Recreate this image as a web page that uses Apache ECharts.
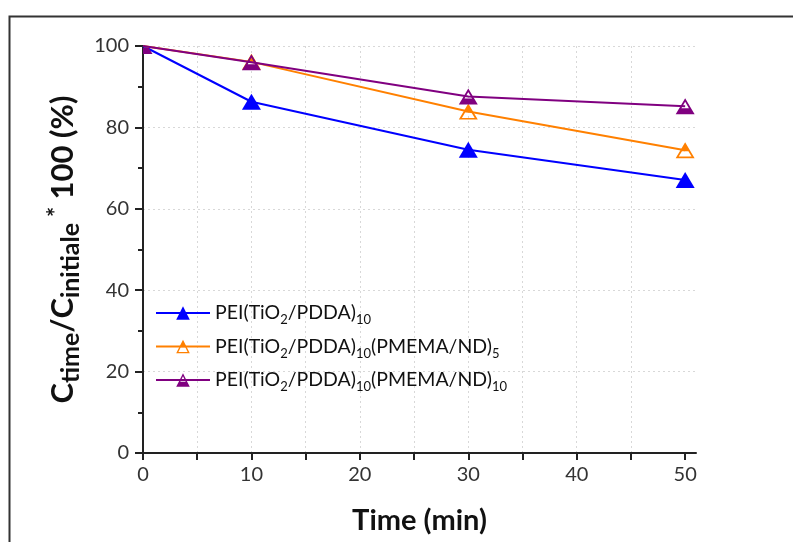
<!DOCTYPE html>
<html>
<head>
<meta charset="utf-8">
<script src="https://cdn.jsdelivr.net/npm/echarts@6/dist/echarts.min.js"></script>
<style>html,body{margin:0;padding:0;background:#fff}#c{width:793px;height:542px}</style>
</head>
<body>
<div id="c"></div>
<script>
const timeMin = [0, 10, 30, 50];
const seriesNames = ['PEI(TiO2/PDDA)10', 'PEI(TiO2/PDDA)10(PMEMA/ND)5', 'PEI(TiO2/PDDA)10(PMEMA/ND)10'];
const legendRich = [
  'PEI(TiO{s|2}/PDDA){s|10}',
  'PEI(TiO{s|2}/PDDA){s|10}(PMEMA/ND){s|5}',
  'PEI(TiO{s|2}/PDDA){s|10}(PMEMA/ND){s|10}'
];
const valsTiO2 = [100, 86.3, 74.5, 67.1];
const valsND5 = [100, 96.1, 83.9, 74.4];
const valsND10 = [100, 96.0, 87.6, 85.2];
const colors = ['#0000ff', '#ff8000', '#800080'];
const xTickLabels = [0, 10, 20, 30, 40, 50];
const xTicks = [0, 5, 10, 15, 20, 25, 30, 35, 40, 45, 50];

// half-filled triangles built from non-overlapping polygons
const topHalf = 'path://M50 0 L78 56 L22 56 Z M22 56 L33.2 56 L16.2 90 L83.8 90 L66.8 56 L78 56 L100 100 L0 100 Z';
const bottomHalf = 'path://M19 62 L81 62 L100 100 L0 100 Z M50 0 L81 62 L69.8 62 L50 22.4 L30.2 62 L19 62 Z';
const cornerPiece = 'path://M50 62 L81 62 L100 100 L50 100 Z';
const symbols = ['triangle', topHalf, bottomHalf];
const allVals = [valsTiO2, valsND5, valsND10];
const symW = 19, symH = 16;

const font = 'Lato, "Open Sans", sans-serif';
const chart = echarts.init(document.getElementById('c'));
chart.setOption({
  animation: false,
  textStyle: { fontFamily: font },
  graphic: [{
    type: 'rect', left: 7, top: 14, z: 100, silent: true,
    shape: { width: 800, height: 540 },
    style: { fill: 'none', stroke: '#333', lineWidth: 2 }
  }],
  grid: { left: 143, right: 97, top: 46, bottom: 89, containLabel: false },
  legend: {
    orient: 'vertical', left: 150, top: 298, itemGap: 10,
    itemWidth: 54, itemHeight: 17,
    data: seriesNames,
    formatter: function (name) { return legendRich[seriesNames.indexOf(name)]; },
    textStyle: {
      fontFamily: font, fontSize: 19.5, color: '#111',
      rich: { s: { fontFamily: font, fontSize: 13, color: '#111', padding: [14, 0, 0, 0] } }
    }
  },
  xAxis: {
    type: 'value', min: 0, max: 51, interval: 10,
    name: 'Time (min)', nameLocation: 'middle', nameGap: 53,
    nameTextStyle: { fontFamily: font, fontSize: 29, fontWeight: 'bold', color: '#111' },
    axisLine: { lineStyle: { color: '#222', width: 2 } },
    axisTick: { show: true, length: 7, customValues: xTicks, lineStyle: { color: '#222', width: 2 } },
    axisLabel: { customValues: xTickLabels, fontSize: 20, color: '#333', margin: 12, fontFamily: font },
    splitLine: { show: true, showMinLine: false, showMaxLine: false, lineStyle: { color: '#d8d8d8', type: [2, 3], width: 1 } }
  },
  yAxis: {
    type: 'value', min: 0, max: 100, interval: 20,
    name: '{C|C}{s|time}{C|/C}{s|initiale}{sup| *}{C| 100 (%)}',
    nameLocation: 'middle', nameGap: 58,
    nameTextStyle: {
      fontFamily: font, fontSize: 31, fontWeight: 'bold', color: '#111',
      rich: {
        C: { fontFamily: font, fontSize: 31, fontWeight: 'bold', color: '#111' },
        s: { fontFamily: font, fontSize: 25, fontWeight: 'bold', color: '#111', padding: [15, 0, 0, 0] },
        sup: { fontFamily: font, fontSize: 24, fontWeight: 'bold', color: '#111', padding: [0, 0, 12, 0] }
      }
    },
    axisLine: { show: true, lineStyle: { color: '#222', width: 2 } },
    axisTick: { show: true, length: 8, lineStyle: { color: '#222', width: 2 } },
    minorTick: { show: true, splitNumber: 2, length: 5, lineStyle: { color: '#222', width: 2 } },
    axisLabel: { fontSize: 20, color: '#333', margin: 14, fontFamily: font },
    splitLine: { show: true, showMinLine: false, lineStyle: { color: '#d8d8d8', type: [2, 3], width: 1 } }
  },
  series: seriesNames.map(function (nm, i) {
    return {
      name: nm, type: 'line', z: 3 + i,
      data: timeMin.map(function (t, j) {
        const p = { value: [t, allVals[i][j]] };
        if (j === 0) {
          if (i === 2) {
            p.symbol = cornerPiece;
            p.symbolSize = [symW * 0.5, symH * 0.38];
            p.symbolOffset = [symW * 0.25, symH * 0.31];
          } else {
            p.symbolSize = 0;
          }
        }
        return p;
      }),
      symbol: symbols[i], symbolSize: [symW, symH], showSymbol: true,
      lineStyle: { color: colors[i], width: 2 },
      itemStyle: { color: colors[i], borderWidth: 0 }
    };
  })
});
</script>
</body>
</html>
